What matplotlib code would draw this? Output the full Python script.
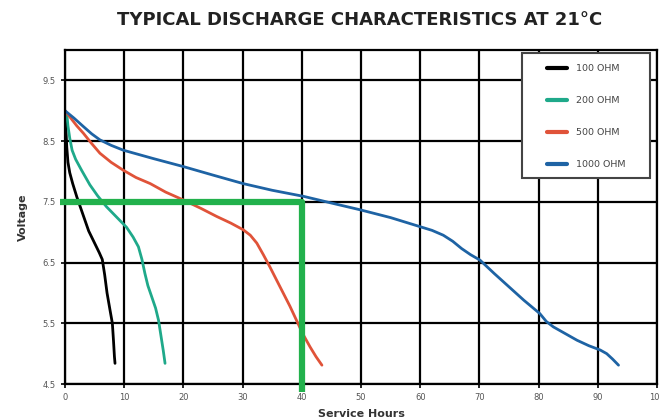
import matplotlib
matplotlib.use("Agg")
import matplotlib.pyplot as plt
from matplotlib.patches import Rectangle

plt.rcParams['font.family'] = ['DejaVu Sans']

# Data
x100 = [0, 0.15, 0.3, 0.5, 0.8, 1.3, 2.0, 3.0, 4.0, 5.0, 5.8, 6.3, 6.7, 7.1, 7.6, 8.0, 8.2, 8.35, 8.45]
y100 = [9.0, 8.7, 8.4, 8.15, 7.98, 7.8, 7.58, 7.3, 7.02, 6.82, 6.66, 6.55, 6.3, 6.0, 5.72, 5.5, 5.2, 4.95, 4.84]

x200 = [0, 0.3, 0.5, 0.8, 1.2, 1.8, 2.8, 4.2, 5.5, 7.0, 8.7, 10.4, 11.5, 12.4, 13.0, 13.5,
        14.0, 14.6, 15.3, 15.8, 16.2, 16.6, 16.9]
y200 = [9.0, 8.95, 8.75, 8.55, 8.35, 8.2, 8.02, 7.78, 7.6, 7.42, 7.25, 7.08, 6.92, 6.76, 6.55, 6.32,
        6.12, 5.95, 5.75, 5.55, 5.3, 5.05, 4.84]

x500 = [0, 0.8, 2.0, 3.1, 4.5, 5.9, 7.8, 9.85, 12.0, 14.4, 17.0, 20.0, 23.0, 25.6, 28.0, 30.1,
        31.3, 32.4, 33.5, 34.6, 35.8, 36.9, 38.0, 39.1, 40.2, 41.4, 42.4, 43.4]
y500 = [9.0, 8.9, 8.75, 8.63, 8.46, 8.3, 8.15, 8.02, 7.9, 7.8, 7.66, 7.53, 7.39, 7.26, 7.15, 7.04,
        6.95, 6.82, 6.63, 6.43, 6.2, 5.99, 5.78, 5.55, 5.32, 5.11, 4.95, 4.81]

x1000 = [0, 1.5, 3.1, 4.5, 5.9, 7.8, 9.85, 15.0, 20.0, 25.0, 30.1, 35.0, 40.3, 45.0, 49.8, 55.0,
         60.0, 62.0, 63.9, 65.5, 67.0, 68.5, 70.1, 72.5, 75.0, 77.5, 80.2, 81.3, 82.5, 84.5,
         86.5, 88.5, 90.4, 91.5, 92.5, 93.5]
y1000 = [9.0, 8.88, 8.74, 8.62, 8.52, 8.43, 8.35, 8.21, 8.08, 7.94, 7.8, 7.69, 7.59, 7.48, 7.37, 7.24,
         7.09, 7.03, 6.95, 6.85, 6.73, 6.63, 6.54, 6.32, 6.1, 5.88, 5.66, 5.53, 5.44, 5.33,
         5.22, 5.13, 5.06, 5.0, 4.91, 4.81]

green_x = [-0.8, 40, 40]
green_y = [7.5, 7.5, 4.37]

series = [
    ("100 OHM", x100, y100, "#000000"),
    ("200 OHM", x200, y200, "#1fa98a"),
    ("500 OHM", x500, y500, "#e05339"),
    ("1000 OHM", x1000, y1000, "#1e63a4"),
]

xticks = [0, 10, 20, 30, 40, 50, 60, 70, 80, 90, 100]
yticks = [4.5, 5.5, 6.5, 7.5, 8.5, 9.5]

fig = plt.figure(figsize=(6.6, 4.18), dpi=100)
ax = fig.add_axes([65/660, 1 - 384/418, 592/660, 334/418])

ax.set_xlim(0, 100)
ax.set_ylim(4.5, 10.0)
ax.set_xticks(xticks)
ax.set_yticks(yticks)
ax.set_xticklabels([str(t) for t in xticks])
ax.set_yticklabels([str(t) for t in yticks])
ax.grid(True, color="black", linewidth=1.6)
ax.set_axisbelow(True)
for s in ax.spines.values():
    s.set_linewidth(1.6)
    s.set_color("black")
ax.tick_params(axis='both', labelsize=6, labelcolor='#555555', color='black', length=3, width=1.2)

for label, xs, ys, c in series:
    ax.plot(xs, ys, color=c, linewidth=2.0, label=label, solid_capstyle='round',
            solid_joinstyle='round')

ax.plot(green_x, green_y, color="#22b14c", linewidth=4.5, clip_on=False, zorder=5,
        solid_capstyle='butt')

# legend frame
frame = Rectangle((0.772, 0.617), 0.988 - 0.772, 0.991 - 0.617, transform=ax.transAxes,
                  facecolor='white', edgecolor='#444444', linewidth=1.5, zorder=4)
ax.add_patch(frame)
leg = ax.legend(loc='upper left', bbox_to_anchor=(0.814, 0.958), fontsize=6.8, frameon=False,
                handlelength=2.1, labelspacing=2.45, borderpad=0, borderaxespad=0,
                handletextpad=1.0)
leg.set_zorder(6)
for h in leg.get_lines():
    h.set_linewidth(3)
for t in leg.get_texts():
    t.set_color('#444444')

ax.set_xlabel("Service Hours", fontsize=8, fontweight='bold', color='#333333', labelpad=5)
ax.set_ylabel("Voltage", fontsize=8, fontweight='bold', color='#333333', labelpad=11)
fig.text(360/660, 1 - 20/418, "TYPICAL DISCHARGE CHARACTERISTICS AT 21°C",
         ha='center', va='center', fontsize=13, fontweight='bold', color='#222222')

fig.savefig("out.png", dpi=100)
